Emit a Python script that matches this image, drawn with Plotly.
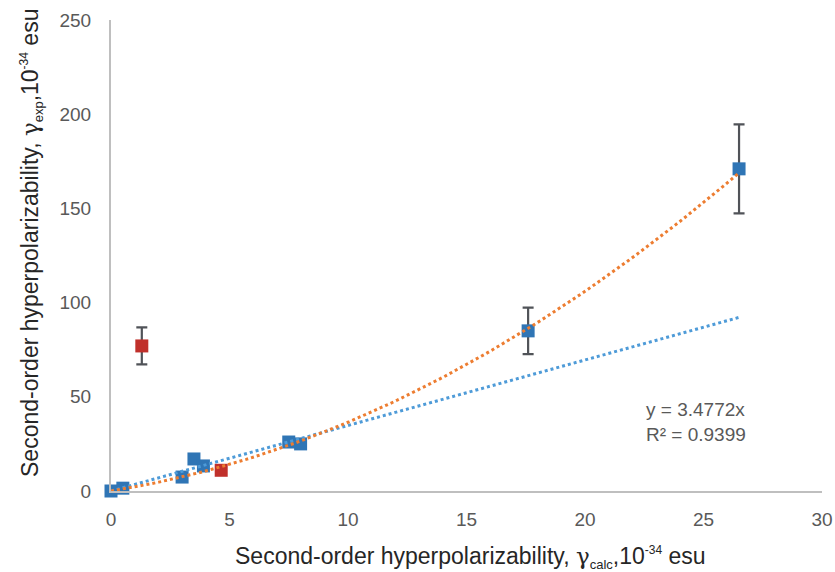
import numpy as np
import plotly.graph_objects as go

# Blue series (calc vs exp)
blue_x = [0.0, 0.5, 3.0, 3.5, 3.9, 7.5, 8.0, 17.6, 26.5]
blue_y = [0.0, 1.5, 7.4, 17.0, 13.3, 26.0, 25.0, 85.0, 171.0]
blue_err = [None, None, None, None, None, None, None, 12.3, 23.6]

# Red series
red_x = [1.3, 4.65]
red_y = [77.0, 11.0]
red_err = [9.8, None]

# Trend lines
lin_slope = 3.4772
lin_x = [0.0, 26.5]
poly_coef = [0.165, 2.0, 0.0]  # quadratic trend (a, b, c)
poly_x_range = [0.0, 26.5]

x_ticks = [0, 5, 10, 15, 20, 25, 30]
y_ticks = [0, 50, 100, 150, 200, 250]

FONT = "Liberation Sans, Arial"

# desired plot area in page pixels
PL, PR, PT, PB = 111, 822, 20, 491
W, H = 835, 572

fig = go.Figure()

fig.add_trace(go.Scatter(x=blue_x, y=blue_y, mode="markers",
                         marker=dict(symbol="square", size=13, color="#2F75B5"),
                         error_y=dict(type="data", array=blue_err, visible=True,
                                      color="#505358", thickness=2.2, width=5.5),
                         cliponaxis=False, showlegend=False))

fig.add_trace(go.Scatter(x=red_x, y=red_y, mode="markers",
                         marker=dict(symbol="square", size=13, color="#C0302B"),
                         error_y=dict(type="data", array=red_err, visible=True,
                                      color="#505358", thickness=2.2, width=5.5),
                         cliponaxis=False, showlegend=False))

lx = np.array(lin_x)
fig.add_trace(go.Scatter(x=lx, y=lin_slope * lx, mode="lines",
                         line=dict(color="#4E9BD8", width=3, dash="dot"),
                         showlegend=False, hoverinfo="skip"))

px_ = np.linspace(poly_x_range[0], poly_x_range[1], 80)
fig.add_trace(go.Scatter(x=px_, y=np.polyval(poly_coef, px_), mode="lines",
                         line=dict(color="#ED7D31", width=3, dash="dot"),
                         showlegend=False, hoverinfo="skip"))

fig.add_annotation(x=22.5, y=36.6, xref="x", yref="y",
                   text="y = 3.4772x<br>R² = 0.9399", showarrow=False,
                   xanchor="left", yanchor="middle", align="left",
                   font=dict(family=FONT, size=19, color="#595959"))

pw, ph = PR - PL, PB - PT
gamma = "<span style='font-family:DejaVu Serif'>γ</span>"
fig.add_annotation(x=(470 - PL) / pw, y=(PB - 557) / ph, xref="paper", yref="paper",
                   text="Second-order hyperpolarizability, " + gamma +
                        "<sub><span style='font-size:13px'>calc</span></sub>,10<sup><span style='font-size:12px'>-34</span></sup> esu",
                   showarrow=False, xanchor="center", yanchor="middle",
                   font=dict(family=FONT, size=23, color="#262626"))
fig.add_annotation(x=(31 - PL) / pw, y=(PB - 243) / ph, xref="paper", yref="paper",
                   text="Second-order hyperpolarizability, " + gamma +
                        "<sub><span style='font-size:13px'>exp</span></sub>,10<sup><span style='font-size:12px'>-34</span></sup> esu",
                   showarrow=False, textangle=-90, xanchor="center", yanchor="middle",
                   font=dict(family=FONT, size=23, color="#262626"))

fig.update_layout(
    width=W, height=H,
    margin=dict(l=PL, r=W - PR, t=PT, b=H - PB),
    paper_bgcolor="white", plot_bgcolor="white",
    font=dict(family=FONT, color="#595959"),
    xaxis=dict(range=[0, 30], tickvals=x_ticks, showgrid=False, zeroline=False,
               showline=True, linecolor="#BFBFBF", linewidth=2, automargin=False,
               tickfont=dict(size=19, color="#595959"), ticklabelstandoff=10),
    yaxis=dict(range=[0, 250], tickvals=y_ticks, showgrid=False, zeroline=False,
               showline=True, linecolor="#BFBFBF", linewidth=2, automargin=False,
               tickfont=dict(size=19, color="#595959"), ticklabelstandoff=14),
)

fig.write_html("out.html", config={"displayModeBar": False},
               post_script="document.body.style.margin='0';document.body.style.overflow='hidden';")
